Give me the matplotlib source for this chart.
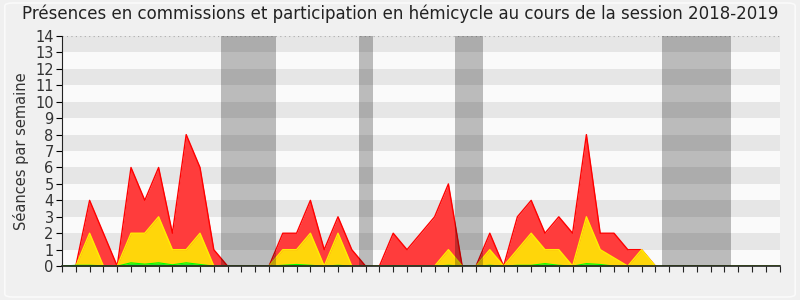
import matplotlib.pyplot as plt
from matplotlib.patches import FancyBboxPatch

# weekly values, week 0 = start of axis, one point per week
weeks = list(range(53))

total = [0, 0, 4, 2, 0, 6, 4, 6, 2, 8, 6, 1, 0, 0, 0, 0, 2, 2, 4, 1,
         3, 1, 0, 0, 2, 1, 2, 3, 5, 0, 0, 2, 0, 3, 4, 2, 3, 2, 8, 2,
         2, 1, 1, 0, 0, 0, 0, 0, 0, 0, 0, 0, 0]
commission = [0, 0, 2, 0, 0, 2, 2, 3, 1, 1, 2, 0, 0, 0, 0, 0, 1, 1, 2, 0,
              2, 0, 0, 0, 0, 0, 0, 0, 1, 0, 0, 1, 0, 1, 2, 1, 1, 0, 3, 1,
              0.5, 0, 1, 0, 0, 0, 0, 0, 0, 0, 0, 0, 0]
hemicycle = [0, 0.05, 0.05, 0.02, 0, 0.2, 0.12, 0.2, 0.08, 0.2, 0.1, 0, 0, 0, 0, 0,
             0.05, 0.1, 0.05, 0, 0.05, 0, 0, 0, 0.02, 0, 0, 0, 0.05, 0, 0, 0.05,
             0, 0.05, 0.05, 0.15, 0.05, 0, 0.15, 0.1, 0, 0, 0, 0, 0, 0, 0, 0, 0,
             0, 0, 0, 0]

# holiday periods (start week, end week)
holidays = [(11.5, 15.5), (21.5, 22.5), (28.5, 30.5), (43.5, 48.5)]

month_labels = ["Oct", "Nov", "Déc", "Jan 19", "Fév", "Mar", "Avr", "Mai",
                "Juin", "Juil", "Août", "Sept"]
month_weeks = [1, 6, 11, 15, 18, 22, 27, 31, 36, 40, 45, 50]

fig = plt.figure(figsize=(8, 3), dpi=100, facecolor="#f0f0f0")
# thin light rounded frame around the picture
fig.patches.append(FancyBboxPatch((0.006, 0.01), 0.988, 0.98,
                                  boxstyle="round,pad=0,rounding_size=0.01",
                                  transform=fig.transFigure, fc="none",
                                  ec="#fafafa", lw=1.2))

ax = fig.add_axes([0.0775, 0.113, 0.897, 0.767])
ax.set_facecolor("#fafafa")

# alternating horizontal stripes
for y in range(14):
    if y % 2 == 1:
        ax.axhspan(y, y + 1, color="#e6e6e6", lw=0, zorder=0)
ax.axhline(14, color="#aaaaaa", lw=0.8, ls=(0, (1, 3)), zorder=1)

ax.fill_between(weeks, total, color="#ff3c3c", lw=0, zorder=2)
ax.plot(weeks, total, color="#ff0000", lw=1, zorder=2)
ax.fill_between(weeks, commission, color="#ffd60a", lw=0, zorder=3)
ax.plot(weeks, commission, color="#ffee00", lw=1, zorder=3)
ax.fill_between(weeks, hemicycle, color="#22ee22", lw=0, zorder=4)
ax.plot(weeks, hemicycle, color="#00ff00", lw=0.8, zorder=4)

for start, end in holidays:
    ax.axvspan(start, end, color="black", alpha=0.25, lw=0, zorder=5)

ax.set_xlim(0, 52)
ax.set_ylim(0, 14)
ax.set_yticks(range(15))
ax.set_xticks(weeks)
ax.set_xticklabels([])
ax.set_xticks(month_weeks, minor=True)
ax.set_xticklabels(month_labels, minor=True)
ax.tick_params(axis="x", which="major", length=4, width=0.8, color="#222222")
ax.tick_params(axis="x", which="minor", length=0, pad=5, labelsize=10.5,
               labelcolor="#333333")
ax.tick_params(axis="y", length=4, width=0.8, labelsize=10.5,
               labelcolor="#333333", pad=2)

for side in ["top", "right"]:
    ax.spines[side].set_visible(False)
ax.spines["left"].set_color("#222222")
ax.spines["bottom"].set_color("#222222")
ax.spines["bottom"].set_linewidth(1.2)
ax.spines["bottom"].set_zorder(10)

ax.set_ylabel("Séances par semaine", fontsize=10.5, color="#333333")
fig.suptitle("Présences en commissions et participation en hémicycle au cours de la session 2018-2019",
             fontsize=12, color="#222222", y=0.985)

fig.savefig("out.png", facecolor=fig.get_facecolor())
plt.close(fig)
